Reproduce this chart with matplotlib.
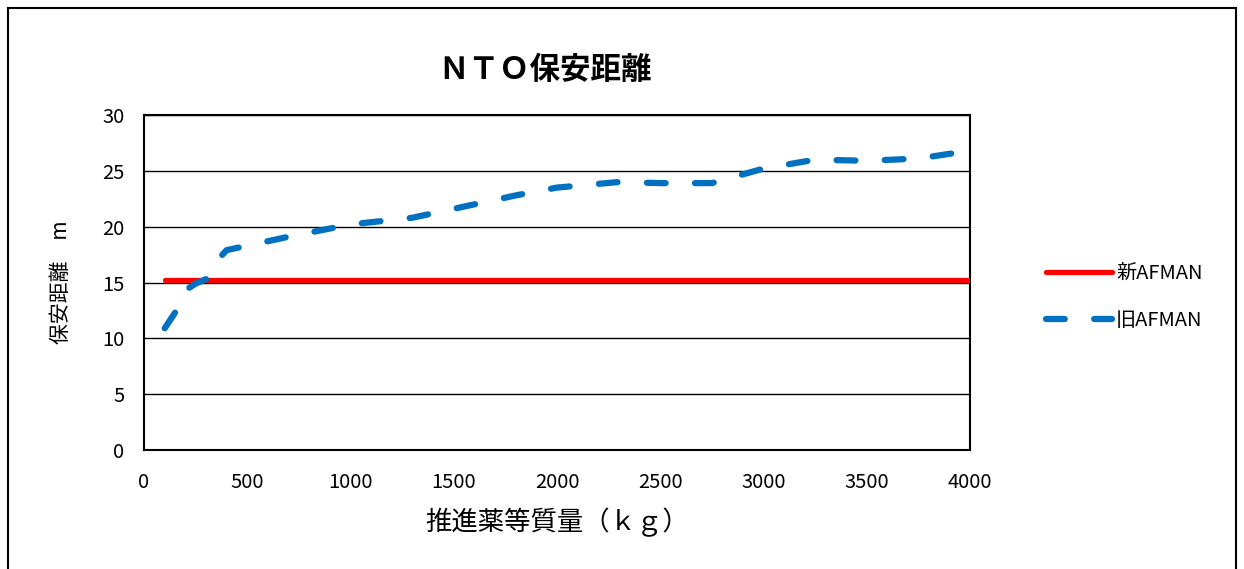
import matplotlib
matplotlib.use("Agg")
import matplotlib.pyplot as plt
from matplotlib.patches import Rectangle

plt.rcParams['font.family'] = ['Noto Sans CJK JP', 'DejaVu Sans']

# 推進薬等質量 (kg)
mass_new = [100, 4000]
dist_new = [15.2, 15.2]

mass_old = [100, 150, 200, 250, 300, 350, 400, 500, 700, 1000, 1300, 1500,
            1800, 2000, 2300, 2500, 2750, 3000, 3250, 3500, 3750, 4000]
dist_old = [10.9, 12.3, 14.3, 14.9, 15.3, 16.9, 17.9, 18.3, 19.1, 20.2, 20.8, 21.6,
            22.8, 23.5, 24.0, 23.9, 23.9, 25.2, 26.0, 25.9, 26.1, 26.8]

xticks = [0, 500, 1000, 1500, 2000, 2500, 3000, 3500, 4000]
yticks = [0, 5, 10, 15, 20, 25, 30]

fig = plt.figure(figsize=(12.44, 5.69), dpi=100)
ax = fig.add_axes([0.1158, 0.2091, 0.6639, 0.5888])

ax.plot(mass_new, dist_new, color='#ff0000', lw=3.8, solid_capstyle='round',
        label='新AFMAN', zorder=3)
ax.plot(mass_old, dist_old, color='#0070c0', lw=4.5, dashes=(3.0, 4.7),
        dash_capstyle='round', label='旧AFMAN', zorder=4)

ax.set_xlim(0, 4000)
ax.set_ylim(0, 30)
ax.set_xticks(xticks)
ax.set_yticks(yticks)
ax.tick_params(axis='both', length=0, labelsize=14.5)
ax.tick_params(axis='y', pad=14)
ax.tick_params(axis='x', pad=16)
ax.yaxis.grid(True, color='black', lw=1)
ax.set_axisbelow(True)
for s in ax.spines.values():
    s.set_linewidth(1.5)
    s.set_color('black')

ax.set_title('ＮＴＯ保安距離', fontsize=22, fontweight='bold', pad=26, x=0.485)
ax.set_xlabel('推進薬等質量（ｋｇ）', fontsize=19, labelpad=10)
ax.set_ylabel('保安距離　m', fontsize=15, labelpad=22)

fig.legend(loc='center left', bbox_to_anchor=(0.826, 0.478), frameon=False,
           fontsize=14.5, handlelength=3.3, labelspacing=1.3, handletextpad=0.2)

fig.patches.append(Rectangle((0.0065, -0.01), 0.987, 0.996, transform=fig.transFigure,
                             fill=False, edgecolor='black', lw=1.5))

fig.savefig('out.png', dpi=100)
